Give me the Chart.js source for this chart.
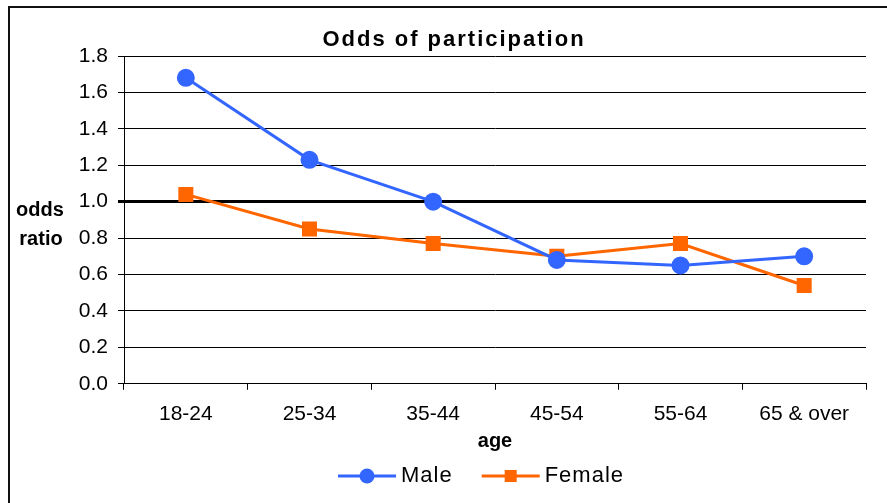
<!DOCTYPE html>
<html>
<head>
<meta charset="utf-8">
<script src="https://cdn.jsdelivr.net/npm/chart.js@4/dist/chart.umd.min.js"></script>
<style>
  html, body { margin: 0; padding: 0; background: #fff; overflow: hidden; }
  #frame { position: absolute; left: 8px; top: 6px; width: 1000px; height: 1000px; border: 2px solid #111; }
  #wrap { position: absolute; left: 0; top: 0; width: 887px; height: 503px; }
</style>
</head>
<body>
<div id="frame"></div>
<div id="wrap"><canvas id="chart"></canvas></div>
<script>
const ageGroups = ["18-24", "25-34", "35-44", "45-54", "55-64", "65 & over"];
const maleOdds = [1.68, 1.23, 1.00, 0.68, 0.65, 0.70];
const femaleOdds = [1.04, 0.85, 0.77, 0.70, 0.77, 0.54];
const yTicksMax = 1.8;
const yTicksStep = 0.2;

const FONT = "'Liberation Sans', Arial, sans-serif";

// title and horizontal y axis title, drawn by hand so the spacing can match
const textPlugin = {
  id: "extraText",
  afterDraw(chart) {
    const ctx = chart.ctx;
    ctx.save();
    ctx.fillStyle = "#000";
    ctx.textAlign = "center";
    ctx.textBaseline = "middle";
    ctx.font = "bold 22px " + FONT;
    if ("letterSpacing" in ctx) ctx.letterSpacing = "2px";
    ctx.fillText("Odds of participation", 454, 40);
    if ("letterSpacing" in ctx) ctx.letterSpacing = "0px";
    ctx.font = "bold 20px " + FONT;
    ctx.fillText("odds", 40, 210);
    ctx.fillText("ratio", 41, 239);
    ctx.restore();
  }
};

// legend with line + marker for each series
const lineLegend = {
  id: "lineLegend",
  afterDraw(chart) {
    const ctx = chart.ctx;
    const y = 476;
    let x = 338;
    ctx.save();
    ctx.font = "22px " + FONT;
    if ("letterSpacing" in ctx) ctx.letterSpacing = "1px";
    ctx.textBaseline = "middle";
    chart.data.datasets.forEach((ds) => {
      ctx.strokeStyle = ds.borderColor;
      ctx.fillStyle = ds.borderColor;
      ctx.lineWidth = 3;
      ctx.beginPath();
      ctx.moveTo(x, y);
      ctx.lineTo(x + 58, y);
      ctx.stroke();
      if (ds.pointStyle === "circle") {
        ctx.beginPath();
        ctx.arc(x + 29, y, 7.5, 0, Math.PI * 2);
        ctx.fill();
      } else {
        ctx.fillRect(x + 23, y - 6, 12, 12);
      }
      ctx.fillStyle = "#000";
      ctx.fillText(ds.label, x + 63, y);
      x += 63 + ctx.measureText(ds.label).width + 29;
    });
    ctx.restore();
  }
};

new Chart(document.getElementById("chart"), {
  type: "line",
  data: {
    labels: ageGroups,
    datasets: [
      {
        label: "Male",
        data: maleOdds,
        borderColor: "#3366FF",
        backgroundColor: "#3366FF",
        borderWidth: 3,
        pointStyle: "circle",
        pointRadius: 7.5,
        pointHoverRadius: 7.5,
        tension: 0
      },
      {
        label: "Female",
        data: femaleOdds,
        borderColor: "#FF6600",
        backgroundColor: "#FF6600",
        borderWidth: 3,
        pointStyle: "rect",
        pointRadius: 8.5,
        pointHoverRadius: 8.5,
        tension: 0
      }
    ]
  },
  options: {
    responsive: true,
    maintainAspectRatio: false,
    animation: false,
    layout: { padding: { left: 40, right: 21, top: 56, bottom: 50 } },
    plugins: {
      legend: { display: false },
      tooltip: { enabled: false },
      title: { display: false }
    },
    scales: {
      x: {
        offset: true,
        grid: {
          offset: true,
          drawOnChartArea: false,
          drawTicks: true,
          tickLength: 6,
          color: "#000"
        },
        border: { display: true, color: "#000", width: 1 },
        ticks: {
          color: "#000",
          font: { family: FONT, size: 21 },
          padding: 12,
          maxRotation: 0
        },
        title: {
          display: true,
          text: "age",
          color: "#000",
          font: { family: FONT, size: 20, weight: "bold" },
          padding: { top: -10, bottom: 0 }
        }
      },
      y: {
        min: 0,
        max: yTicksMax,
        afterFit(scale) { scale.width = 84; },
        grid: {
          color: "#000",
          tickLength: 6,
          lineWidth: (c) => (c.tick && Math.abs(c.tick.value - 1) < 1e-6 ? 3 : 1)
        },
        border: { display: true, color: "#000", width: 1 },
        ticks: {
          stepSize: yTicksStep,
          color: "#000",
          font: { family: FONT, size: 21 },
          padding: 10,
          callback: (v) => Number(v).toFixed(1)
        }
      }
    }
  },
  plugins: [textPlugin, lineLegend]
});
</script>
</body>
</html>
